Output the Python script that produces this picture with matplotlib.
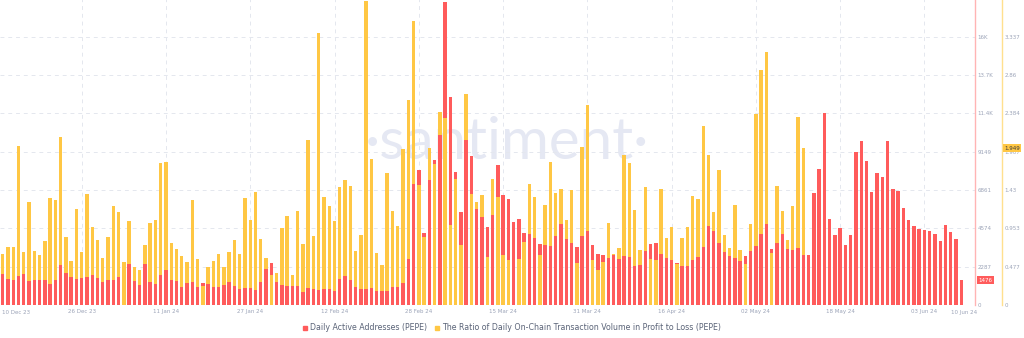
import numpy as np
import pandas as pd
import matplotlib
matplotlib.use("Agg")
import matplotlib.pyplot as plt
import matplotlib.transforms as mtransforms
from matplotlib.lines import Line2D

# daily series, 11 Dec 23 .. 10 Jun 24
dates = pd.date_range("2023-12-11", "2024-06-10", freq="D")

active_addresses = [
    1830, 1571, 1472, 1730, 1850, 1432, 1492, 1472, 1472, 1273,
    1492, 2407, 1909, 1671, 1571, 1591, 1691, 1770, 1631, 1372,
    1472, 1472, 1691, 2580, 2466, 1432, 1193, 2446, 1372, 1273,
    1770, 2088, 1492, 1432, 1054, 1333, 1392, 1074, 1333, 1273,
    1074, 1074, 1193, 1372, 1154, 935, 1014, 995, 895, 1353,
    2168, 2506, 1392, 1193, 1154, 1134, 1134, 776, 1034, 975,
    915, 955, 975, 815, 1551, 1711, 1472, 1094, 935, 975,
    1034, 835, 835, 835, 1094, 1054, 1313, 2725, 7240, 8055,
    4276, 7439, 8632, 10164, 18100, 12411, 7956, 5549, 9846, 8891,
    5728, 5271, 4654, 5390, 8354, 6564, 6325, 4953, 5132, 4276,
    4237, 3978, 3620, 3580, 3501, 4137, 4833, 3938, 3700, 3461,
    4137, 4435, 3600, 3043, 2984, 2785, 2984, 2765, 2924, 2884,
    2347, 2407, 3222, 3620, 3680, 3043, 2804, 2665, 2486, 2327,
    2327, 2705, 2864, 3441, 4694, 4396, 3719, 3182, 2924, 2824,
    2625, 2904, 3222, 3521, 4237, 4813, 3322, 3719, 4237, 3322,
    3302, 3381, 3003, 3003, 6663, 8115, 11477, 5132, 4157, 4575,
    3580, 4157, 9110, 9786, 8573, 6723, 7896, 7618, 9786, 6942,
    6822, 5768, 5092, 4694, 4535, 4495, 4416, 4237, 3799, 4754,
    4356, 3958, 1476,
]

# ratio series stops on 12 May 24
profit_loss_ratio = [
    0.635, 0.718, 0.722, 1.979, 0.655, 1.278, 0.668, 0.618, 0.796, 1.336,
    1.307, 2.091, 0.846, 0.543, 1.199, 0.660, 1.385, 0.975, 0.809, 0.589,
    0.842, 1.228, 1.153, 0.535, 1.041, 0.477, 0.436, 0.747, 1.020, 1.058,
    1.763, 1.775, 0.767, 0.693, 0.606, 0.539, 1.307, 0.572, 0.236, 0.469,
    0.552, 0.635, 0.473, 0.655, 0.809, 0.631, 1.336, 1.058, 1.410, 0.817,
    0.581, 0.369, 0.394, 0.958, 1.103, 0.373, 1.170, 0.759, 2.053, 0.863,
    3.381, 1.344, 1.236, 1.045, 1.464, 1.551, 1.481, 0.672, 0.867, 3.775,
    1.813, 0.647, 0.494, 1.647, 1.170, 0.987, 1.941, 2.547, 3.538, 1.493,
    0.850, 1.958, 1.755, 2.406, 2.331, 0.996, 1.564, 0.742, 2.622, 1.377,
    1.282, 1.369, 0.601, 1.568, 1.348, 0.622, 0.560, 1.036, 0.572, 0.784,
    1.502, 1.344, 0.622, 1.244, 1.775, 1.398, 1.439, 1.058, 1.431, 0.527,
    1.966, 2.485, 0.560, 0.436, 0.535, 1.016, 0.635, 0.705, 1.867, 1.763,
    1.186, 0.684, 1.468, 0.572, 0.560, 1.439, 0.838, 0.966, 0.510, 0.830,
    0.971, 1.361, 1.315, 2.223, 1.867, 1.157, 1.680, 0.867, 0.709, 1.244,
    0.689, 0.514, 1.012, 2.377, 2.924, 3.144, 0.643, 1.485, 1.174, 0.813,
    1.236, 2.335, 1.949,
]

red_ticks = [0, 2287.2, 4574.4, 6861.6, 9148.8, 11436, 13723.2, 16010.4, 18297.6]
red_tick_labels = ["0", "2287", "4574", "6861", "9149", "11.4K", "13.7K", "16K", "18.3K"]
yel_ticks = [0, 0.4768, 0.9536, 1.4304, 1.9072, 2.384, 2.8608, 3.3376, 3.8144]
yel_tick_labels = ["0", "0.477", "0.953", "1.43", "1.907", "2.384", "2.86", "3.337", "3.814"]

RED = "#ff5b5b"
YEL = "#ffc744"
GRID = "#e4e7ee"
TICK = "#9ca4b8"

red = np.array(active_addresses, dtype=float)
yel = np.array(profit_loss_ratio, dtype=float)
x = np.arange(len(red))
xy = x[:len(yel)]

fig = plt.figure(figsize=(10.24, 3.38), dpi=100)
pos = [0, 33 / 338, 975 / 1024, 306.7 / 338]
ax = fig.add_axes(pos)
ax2 = ax.twinx()
ax3 = fig.add_axes(pos, sharex=ax, sharey=ax)
ax.set_zorder(1); ax2.set_zorder(2); ax3.set_zorder(3)
ax2.patch.set_visible(False)
ax3.patch.set_visible(False)
ax3.axis("off")

ax.set_ylim(red_ticks[0], red_ticks[-1])
ax2.set_ylim(yel_ticks[0], yel_ticks[-1])
ax.set_xlim(-0.51, 184.6)

# shorter bar of each day sits in front
red_frac = red[:len(yel)] / red_ticks[-1]
yel_frac = yel / yel_ticks[-1]
front = np.zeros(len(red), dtype=bool)
front[:len(yel)] = red_frac < yel_frac

w = 0.65
ax.bar(x[~front], red[~front], width=w, color=RED, zorder=2)
ax2.bar(xy, yel, width=w, color=YEL, zorder=2)
ax3.bar(x[front], red[front], width=w, color=RED, zorder=2)

# watermark
ax.text(0.52, 0.53, "\u00b7santiment\u00b7", transform=ax.transAxes, ha="center", va="center",
        fontsize=42, color="#e5e8f3", family="Lato", zorder=0.5)

# grid + date ticks
label_dates = pd.date_range("2023-12-26", periods=11, freq="16D")
tick_pos = [(d - dates[0]).days for d in label_dates]
ax.set_xticks(tick_pos)
ax.set_xticklabels([d.strftime("%d %b %y") for d in label_dates])
ax.set_yticks(red_ticks)
ax.set_yticklabels(red_tick_labels)
ax.grid(True, color=GRID, linestyle=(0, (4, 4)), linewidth=0.7)
ax.set_axisbelow(True)
ax.tick_params(axis="x", length=0, pad=3, labelsize=4, labelcolor=TICK)
ax.text(0.002, -0.017, "10 Dec 23", transform=ax.transAxes, ha="left", va="top", fontsize=4, color=TICK)
ax.text(1.002, -0.017, "10 Jun 24", transform=ax.transAxes, ha="right", va="top", fontsize=4, color=TICK)

ax.yaxis.tick_right()
ax.tick_params(axis="y", length=0, pad=2, labelsize=4, labelcolor=TICK)
for s in ["top", "left", "bottom"]:
    ax.spines[s].set_visible(False)
ax.spines["right"].set_color("#ffb4b4")
ax.spines["right"].set_linewidth(1)

ax2.set_yticks(yel_ticks)
ax2.set_yticklabels(yel_tick_labels)
ax2.tick_params(axis="y", length=0, pad=2.2, labelsize=4, labelcolor=TICK)
for s in ["top", "left", "bottom"]:
    ax2.spines[s].set_visible(False)
ax2.spines["right"].set_position(("outward", 19.2))
ax2.spines["right"].set_color("#ffe08e")
ax2.spines["right"].set_linewidth(1)

# last value badges
tr1 = mtransforms.blended_transform_factory(ax.transAxes, ax.transData)
ax.annotate(f"{active_addresses[-1]}", xy=(1, active_addresses[-1]), xycoords=tr1,
            xytext=(2.4, 0), textcoords="offset points", ha="left", va="center",
            fontsize=4, color="white", annotation_clip=False, zorder=5,
            bbox=dict(boxstyle="square,pad=0.25", facecolor=RED, edgecolor="none"))
tr2 = mtransforms.blended_transform_factory(ax2.transAxes, ax2.transData)
ax2.annotate(f"{profit_loss_ratio[-1]}", xy=(1, profit_loss_ratio[-1]), xycoords=tr2,
             xytext=(21.0, 0), textcoords="offset points", ha="left", va="center",
             fontsize=4, color="#3a3a3a", annotation_clip=False, zorder=5,
             bbox=dict(boxstyle="square,pad=0.25", facecolor=YEL, edgecolor="none"))

handles = [Line2D([], [], marker="s", color=RED, linestyle="none", markersize=3.5),
           Line2D([], [], marker="s", color=YEL, linestyle="none", markersize=3.5)]
fig.legend(handles, ["Daily Active Addresses (PEPE)",
                     "The Ratio of Daily On-Chain Transaction Volume in Profit to Loss (PEPE)"],
           loc="center", bbox_to_anchor=(0.5, 1 - 328 / 338), ncol=2, frameon=False,
           fontsize=5.7, handlelength=0.7, handletextpad=0.3, columnspacing=0.9,
           labelcolor="#5b6478")

fig.savefig("out.png", dpi=100)
